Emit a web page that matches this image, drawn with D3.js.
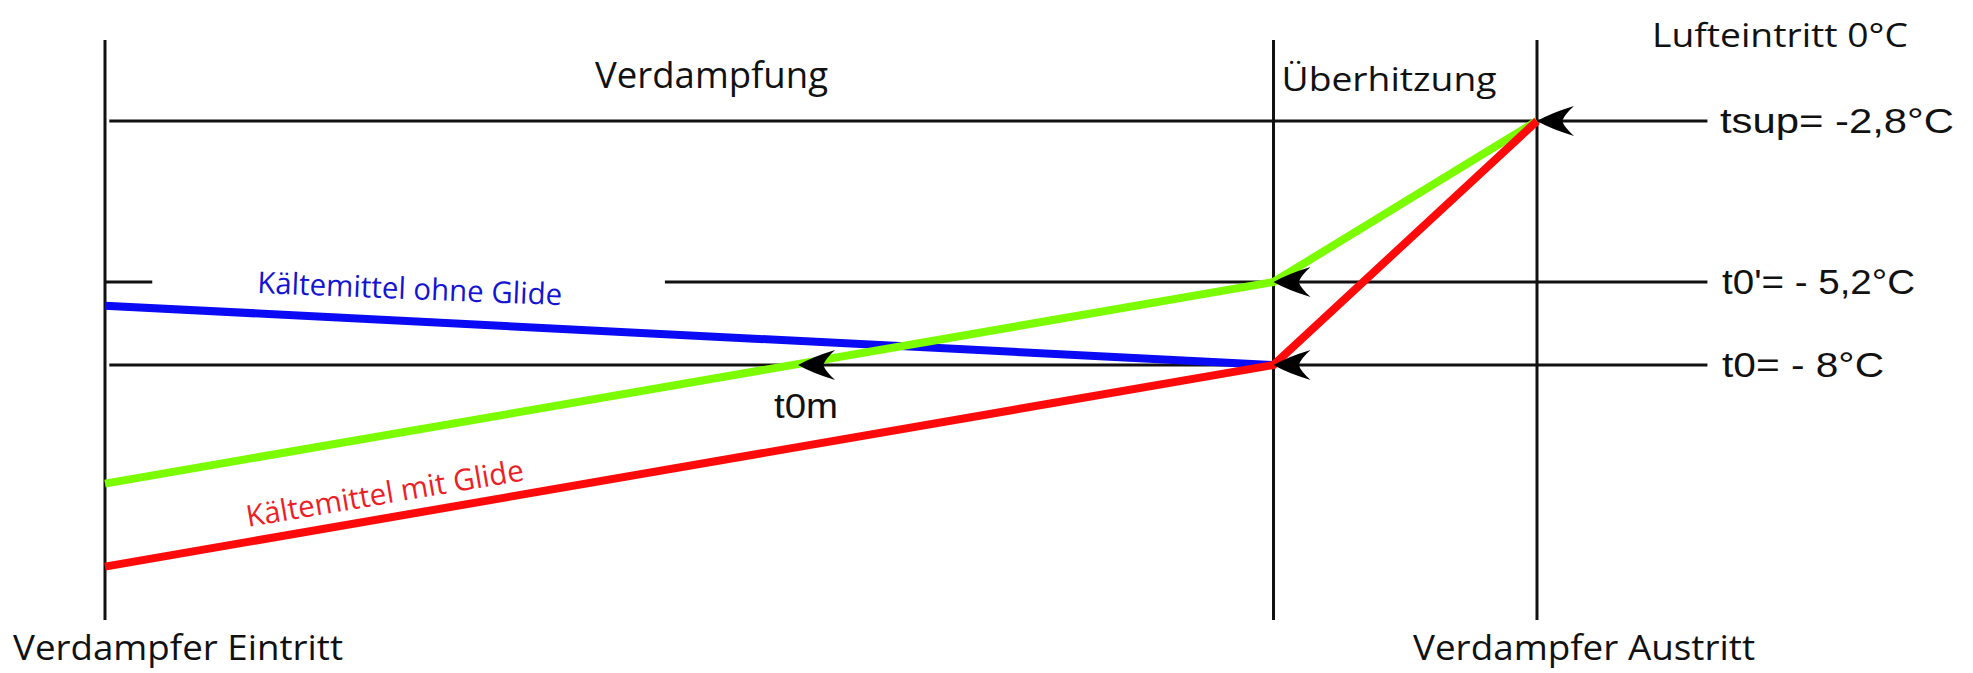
<!DOCTYPE html>
<html>
<head>
<meta charset="utf-8">
<script src="https://cdn.jsdelivr.net/npm/d3@7"></script>
<style>
  html, body { margin: 0; padding: 0; background: #ffffff; }
  svg { display: block; }
</style>
</head>
<body>
<svg id="chart"></svg>
<script>
// Stations along the evaporator, as share of its length (inlet = 0, outlet = 1)
const stationNames = ["Verdampfer Eintritt", "Ende Verdampfung", "Verdampfer Austritt"];
const stationShare = [0, 0.816, 1];

// Reference temperature levels (°C)
const levelKeys = ["tsup", "t0'", "t0"];
const levelTemps = [-2.8, -5.2, -8];
const levelLabels = ["tsup= -2,8°C", "t0'= - 5,2°C", "t0= - 8°C"];

// Refrigerant temperature profiles (°C) at the stations
const noGlideTemps = [-6.0, -8];              // inlet, end of evaporation
const meanGlideTemps = [-12.0, -5.2, -2.8];   // inlet, end of evaporation, outlet
const glideTemps = [-14.8, -8, -2.8];         // inlet, end of evaporation, outlet
const seriesLabels = ["Kältemittel ohne Glide", "Kältemittel mit Glide"];

// Mean evaporation temperature
const t0mShare = 0.484;
const t0mTemp = -8;
const t0mLabel = "t0m";

const sectionNames = ["Verdampfung", "Überhitzung"];
const airInletLabel = "Lufteintritt 0°C";

// ---------------------------------------------------------------
const W = 1973, H = 673;
const svg = d3.select("#chart").attr("width", W).attr("height", H);

const x = d3.scaleLinear().domain([0, 1]).range([105, 1537]);
// schematic (piecewise) temperature axis
const y = d3.scaleLinear().domain([-8, -5.2, -2.8]).range([365, 282, 121]);

const lineEnd = 1.119;      // reference lines reach past the outlet
const frameTop = 40, frameBottom = 620;

const calibriLike = "'Open Sans', 'Noto Sans', sans-serif";
const arialLike = "'Liberation Sans', Arial, sans-serif";

// vertical station lines
svg.append("g").selectAll("line")
  .data(stationShare)
  .join("line")
  .attr("x1", d => x(d)).attr("x2", d => x(d))
  .attr("y1", frameTop).attr("y2", frameBottom)
  .attr("stroke", "#111").attr("stroke-width", 3);

// horizontal reference lines (t0' is interrupted around the label)
const levelSegments = [
  [[0.003, lineEnd]],
  [[0, 0.033], [0.391, lineEnd]],
  [[0.003, lineEnd]]
];
const segs = [];
levelTemps.forEach((t, i) => levelSegments[i].forEach(s => segs.push({t, s})));
svg.append("g").selectAll("line")
  .data(segs)
  .join("line")
  .attr("x1", d => x(d.s[0])).attr("x2", d => x(d.s[1]))
  .attr("y1", d => y(d.t)).attr("y2", d => y(d.t))
  .attr("stroke", "#111").attr("stroke-width", 3.2);

// refrigerant profiles
const line = d3.line().x(d => x(d[0])).y(d => y(d[1]));
const profiles = [
  { pts: noGlideTemps.map((t, i) => [stationShare[i], t]), color: "#0a0af5" },
  { pts: meanGlideTemps.map((t, i) => [stationShare[i], t]), color: "#7cfc00" },
  { pts: glideTemps.map((t, i) => [stationShare[i], t]), color: "#ff0a0a" }
];
svg.append("g").selectAll("path")
  .data(profiles)
  .join("path")
  .attr("d", d => line(d.pts))
  .attr("fill", "none")
  .attr("stroke", d => d.color)
  .attr("stroke-width", 8)
  .attr("stroke-linejoin", "round");

// arrowheads pointing against the air flow direction
const arrows = [
  [stationShare[2], levelTemps[0]],
  [stationShare[1], levelTemps[1]],
  [stationShare[1], levelTemps[2]],
  [t0mShare, t0mTemp]
];
svg.append("g").selectAll("path")
  .data(arrows)
  .join("path")
  .attr("transform", d => `translate(${x(d[0])},${y(d[1])})`)
  .attr("d", "M0,0 Q14,-8 37,-15 Q28,-7 25,0 Q28,7 37,15 Q14,8 0,0 Z")
  .attr("fill", "#000");

// texts
function label(txt, px, py, opts) {
  const t = svg.append("text")
    .attr("x", px).attr("y", py)
    .attr("font-family", opts.font)
    .attr("font-size", opts.size)
    .attr("fill", opts.color || "#111")
    .text(txt);
  if (opts.len) t.attr("textLength", opts.len).attr("lengthAdjust", "spacingAndGlyphs");
  if (opts.rotate) t.attr("transform", `rotate(${opts.rotate},${px},${py})`);
  return t;
}

label(sectionNames[0], 595, 88, { font: calibriLike, size: 36, len: 233 });
label(sectionNames[1], x(stationShare[1]) + 8, 91, { font: calibriLike, size: 33, len: 215 });
label(airInletLabel, 1652, 47, { font: calibriLike, size: 32, len: 256 });

const levelLabelX = [1720, 1722, 1722];
const levelLabelLen = [234, 193, 162];
levelLabels.forEach((txt, i) => {
  label(txt, levelLabelX[i], y(levelTemps[i]) + 12, { font: arialLike, size: 35, len: levelLabelLen[i] });
});

label(t0mLabel, x(t0mShare) - 24, y(t0mTemp) + 53, { font: arialLike, size: 35, len: 64 });

label(seriesLabels[0], 257, 293, { font: calibriLike, size: 30, color: "#1414d2", len: 305, rotate: 2.3 });
label(seriesLabels[1], 248, 527, { font: calibriLike, size: 30, color: "#ec1f28", len: 281, rotate: -9.6 });

label(stationNames[0], 13, 660, { font: calibriLike, size: 35, len: 330 });
label(stationNames[2], 1413, 660, { font: calibriLike, size: 35, len: 342 });
</script>
</body>
</html>
